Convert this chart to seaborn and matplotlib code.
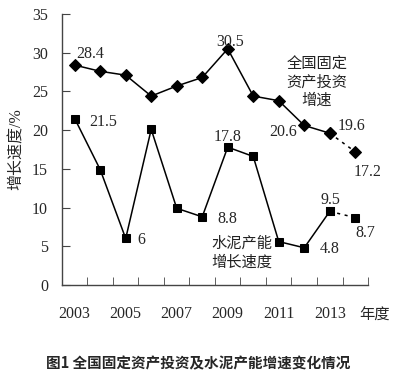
import seaborn as sns
import matplotlib.pyplot as plt
import pandas as pd
import numpy as np

sns.set_style("ticks")
plt.rcParams['font.family'] = ['Liberation Serif', 'Noto Sans CJK SC', 'DejaVu Sans']
plt.rcParams['axes.unicode_minus'] = False

# data
years = [2003, 2004, 2005, 2006, 2007, 2008, 2009, 2010, 2011, 2012, 2013, 2014]
invest = [28.4, 27.6, 27.1, 24.4, 25.7, 26.8, 30.5, 24.4, 23.8, 20.6, 19.6, 17.2]
cement = [21.5, 14.9, 6.0, 20.1, 9.9, 8.8, 17.8, 16.6, 5.6, 4.8, 9.5, 8.7]

df = pd.DataFrame({"year": years, "invest": invest, "cement": cement})
solid = df[df["year"] <= 2013]
dashed = df[df["year"] >= 2013]

fig = plt.figure(figsize=(3.97, 3.84), dpi=100)
ax = fig.add_axes([0.156, 0.258, 0.771, 0.7055])

sns.lineplot(data=solid, x="year", y="invest", ax=ax, color="black", lw=1.1,
             marker="D", markersize=6, markeredgecolor="black")
sns.lineplot(data=dashed, x="year", y="invest", ax=ax, color="black", lw=1.1,
             linestyle=(0, (2, 3)), marker="D", markersize=6, markeredgecolor="black")
sns.lineplot(data=solid, x="year", y="cement", ax=ax, color="black", lw=1.1,
             marker="s", markersize=6, markeredgecolor="black")
sns.lineplot(data=dashed, x="year", y="cement", ax=ax, color="black", lw=1.1,
             linestyle=(0, (2, 3)), marker="s", markersize=6, markeredgecolor="black")

ax.set_xlim(2002.5, 2014.5)
ax.set_ylim(0, 35)
ax.set_yticks(range(0, 36, 5))
ax.set_xticks([2003, 2005, 2007, 2009, 2011, 2013])
ax.set_xticks(np.arange(2003.5, 2015, 1), minor=True)
ax.tick_params(axis="x", which="major", length=0, pad=15, labelsize=11.5)
ax.tick_params(axis="x", which="minor", direction="in", length=6, color="#444")
ax.tick_params(axis="y", direction="in", length=6, color="#444", labelsize=11.5, pad=10)
sns.despine(ax=ax)
for s in ["left", "bottom"]:
    ax.spines[s].set_color("#444")
    ax.spines[s].set_linewidth(1.0)

ax.set_xlabel("")
ax.set_ylabel("增长速度/%", fontsize=11.5, labelpad=5)
ax.text(2014.15, -4.0, "年度", fontsize=11, ha="left", va="center")

# value labels (offsets in pixels)
labels = [
    (2003, invest, "28.4", 16, 11), (2009, invest, "30.5", 2, 7),
    (2012, invest, "20.6", -21, -7), (2013, invest, "19.6", 22, 7),
    (2014, invest, "17.2", 12, -20),
    (2003, cement, "21.5", 29, -3), (2005, cement, "6", 16, -2),
    (2009, cement, "17.8", 0, 10), (2008, cement, "8.8", 25, -2),
    (2013, cement, "9.5", 1, 11), (2012, cement, "4.8", 25, -1),
    (2014, cement, "8.7", 10, -15),
]
for yr, series, txt, dx, dy in labels:
    ax.annotate(txt, (yr, series[years.index(yr)]), xytext=(dx, dy),
                textcoords="offset pixels", ha="center", va="center", fontsize=11.5)

ax.text(2012.5, 26.1, "全国固定\n资产投资\n增速", fontsize=11, ha="center", va="center",
        linespacing=1.3, color="#222")
ax.text(2008.35, 4.1, "水泥产能\n增长速度", fontsize=11, ha="left", va="center",
        linespacing=1.35, color="#222")

fig.text(0.5, 0.055, "图1 全国固定资产投资及水泥产能增速变化情况", ha="center", va="center",
         fontsize=10.5, fontweight="bold", family=["Noto Sans CJK SC", "DejaVu Sans"])

plt.savefig("out.png", dpi=100)
plt.close()
